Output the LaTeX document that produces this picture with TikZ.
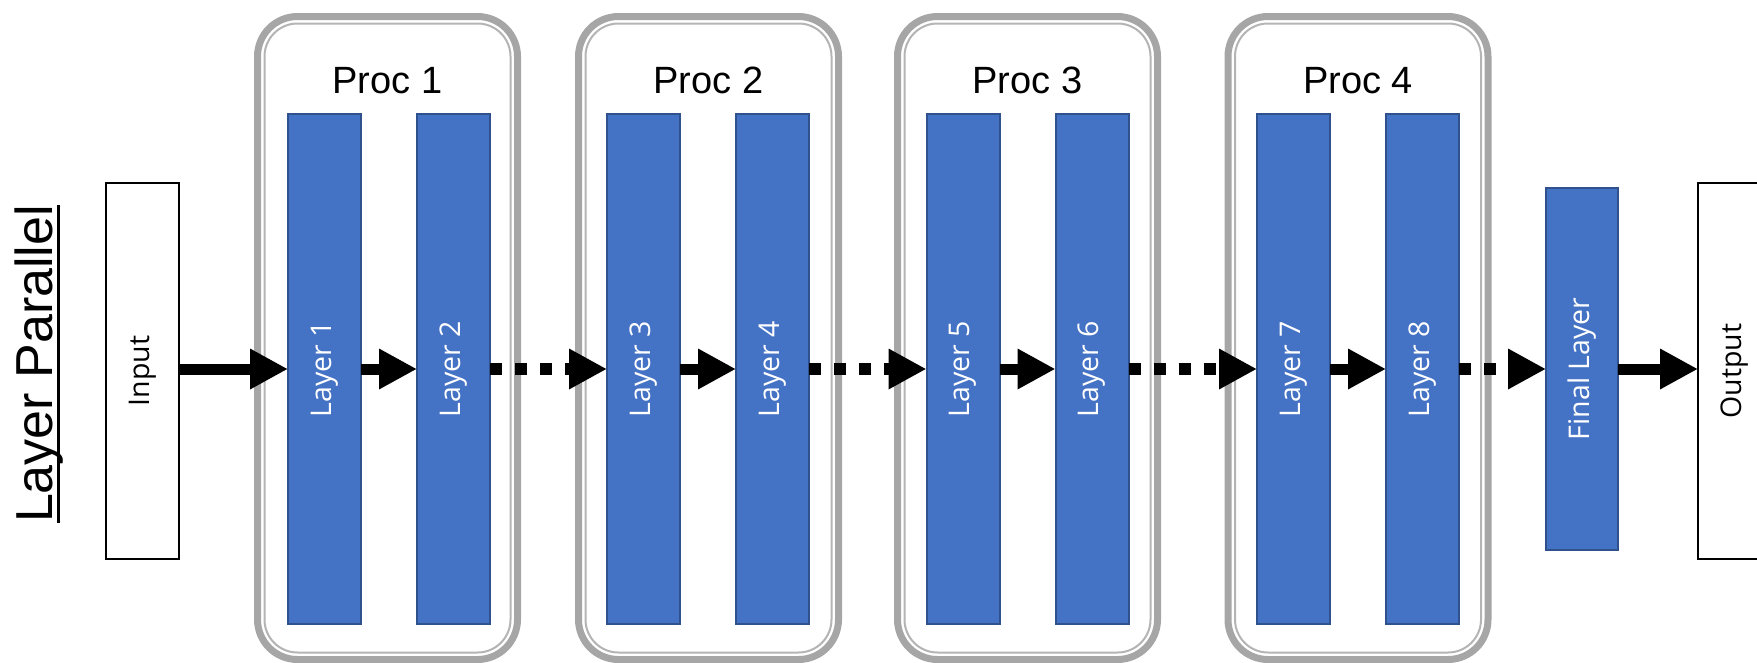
\documentclass[tikz,border=0pt]{standalone}
\usepackage{fontspec}
\setmainfont{Liberation Sans}
\newfontfamily\uifont{Open Sans}
\usetikzlibrary{arrows.meta}

\definecolor{layerblue}{HTML}{4472C4}
\definecolor{layeredge}{HTML}{2F528F}
\definecolor{procgray}{HTML}{A6A6A6}
\definecolor{procthin}{HTML}{B4B4B4}

\tikzset{
  layerbox/.style={draw=layeredge, line width=2pt, fill=layerblue,
    minimum width=73pt, minimum height=510pt, inner sep=0pt, outer sep=0pt,
    text=white, font=\uifont\fontsize{28.5}{32}\selectfont},
  iobox/.style={draw=black, line width=2pt, fill=white,
    minimum width=73pt, minimum height=376pt, inner sep=0pt, outer sep=0pt,
    font=\uifont\fontsize{28.5}{32}\selectfont},
  procbox/.style={draw=procgray, line width=7pt, rounded corners=40pt,
    minimum width=260pt, minimum height=643pt, inner sep=0pt, outer sep=0pt},
  procinner/.style={draw=procthin, line width=2pt, rounded corners=33pt},
  proclabel/.style={anchor=base, font=\fontsize{38}{42}\selectfont},
  solidarr/.style={line width=11pt, -{Triangle[length=38pt,width=38pt]}},
  dotarr/.style={line width=12pt, dash pattern=on 12pt off 13pt,
    -{Triangle[length=38pt,width=38pt]}},
}

\begin{document}
\begin{tikzpicture}[x=1pt, y=-1pt]
  \useasboundingbox (0,0) rectangle (1757,662);
  \clip (0,0) rectangle (1757,662);

  % processor containers (double outline)
  \foreach \n/\cx in {1/387.5, 2/708.5, 3/1027.5, 4/1358} {
    \node[procbox] (P\n) at (\cx, 338) {};
    \draw[procinner] ([shift={(7,7)}]P\n.north west) rectangle ([shift={(-7,-7)}]P\n.south east);
    \node[proclabel] (T\n) at (\cx, 93) {Proc \n};
  }

  % title
  \node[rotate=90, anchor=base, inner sep=0pt, font=\fontsize{52}{60}\selectfont]
    (lp) at (52, 364) {Layer Parallel};
  \draw[line width=3pt] ([xshift=6.5pt]lp.base west) -- ([xshift=6.5pt]lp.base east);

  % input / output
  \node[iobox] (in) at (142.5, 371) {\rotatebox{90}{Input}};
  \node[iobox] (out) at (1734.5, 371) {\rotatebox{90}{Output}};

  % layers
  \node[layerbox] (L1) at (324.5, 369) {\rotatebox{90}{Layer 1}};
  \node[layerbox] (L2) at (453.5, 369) {\rotatebox{90}{Layer 2}};
  \node[layerbox] (L3) at (643.5, 369) {\rotatebox{90}{Layer 3}};
  \node[layerbox] (L4) at (772.5, 369) {\rotatebox{90}{Layer 4}};
  \node[layerbox] (L5) at (963, 369) {\rotatebox{90}{Layer 5}};
  \node[layerbox] (L6) at (1092, 369) {\rotatebox{90}{Layer 6}};
  \node[layerbox] (L7) at (1293.5, 369) {\rotatebox{90}{Layer 7}};
  \node[layerbox] (L8) at (1422.5, 369) {\rotatebox{90}{Layer 8}};
  \node[layerbox, minimum width=72pt, minimum height=362pt] (FL) at (1582, 369)
    {\rotatebox{90}{Final Layer}};

  % connections
  \draw[solidarr] (in.east |- L1.west) -- (L1.west);
  \draw[solidarr] (L1.east) -- (L2.west);
  \draw[dotarr]   (L2.east) -- (L3.west);
  \draw[solidarr] (L3.east) -- (L4.west);
  \draw[dotarr]   (L4.east) -- (L5.west);
  \draw[solidarr] (L5.east) -- (L6.west);
  \draw[dotarr]   (L6.east) -- (L7.west);
  \draw[solidarr] (L7.east) -- (L8.west);
  \draw[dotarr]   (L8.east) -- (FL.west);
  \draw[solidarr] (FL.east) -- (out.west |- FL.east);
\end{tikzpicture}
\end{document}
